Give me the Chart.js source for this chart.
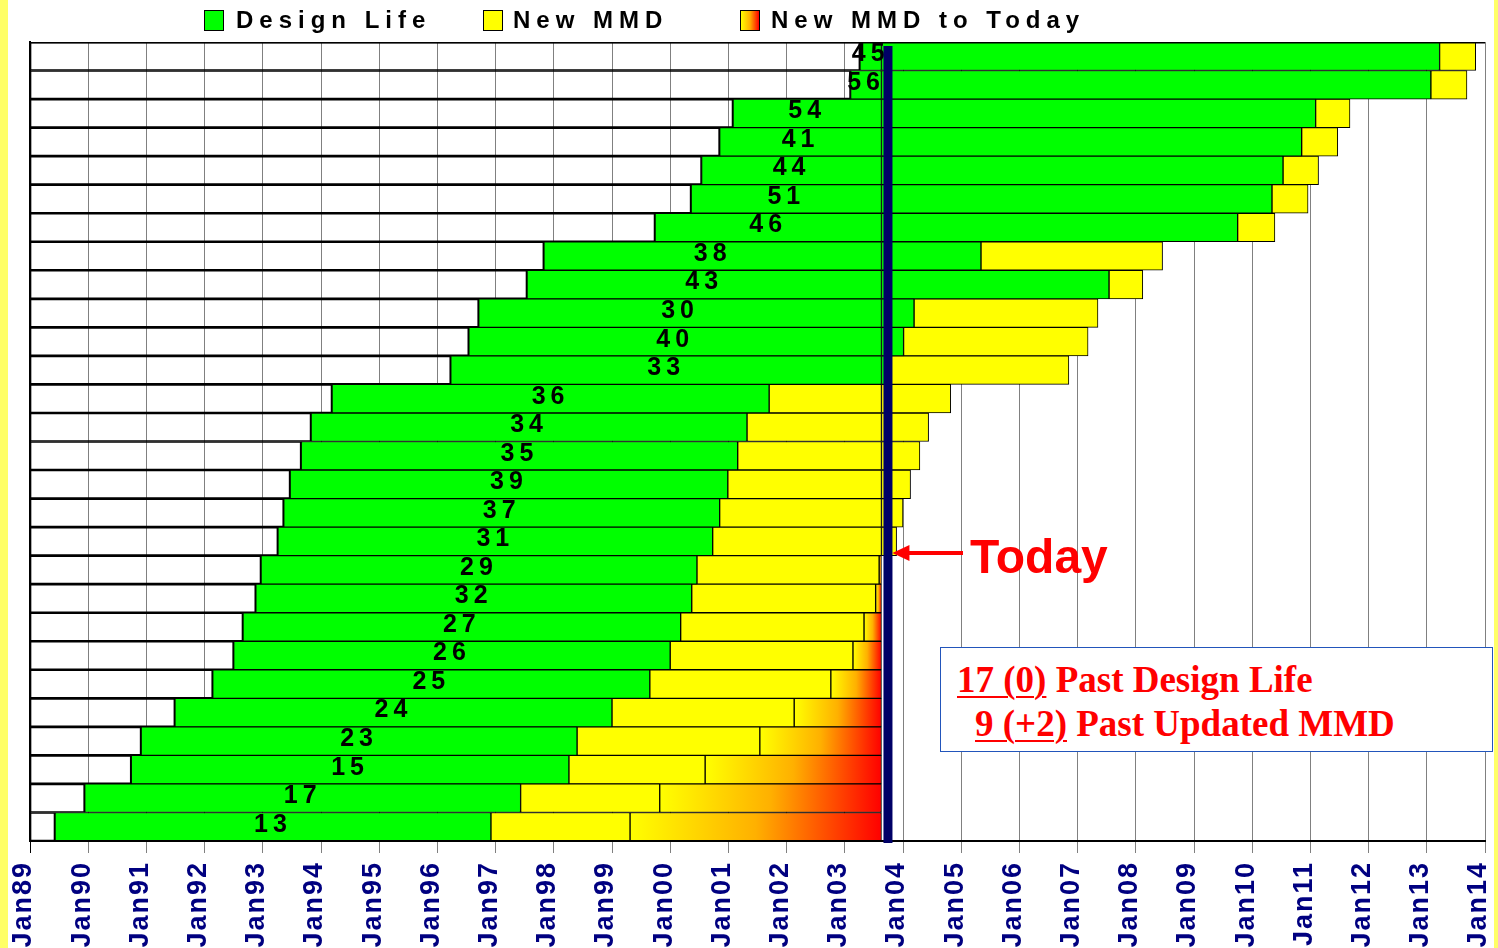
<!DOCTYPE html>
<html>
<head>
<meta charset="utf-8">
<title>Design Life / New MMD</title>
<script src="https://cdn.jsdelivr.net/npm/chart.js@4.4.1/dist/chart.umd.min.js"></script>
<style>
	html, body { margin: 0; padding: 0; width: 1498px; height: 948px; overflow: hidden; background: #ffff66; }
	#wrap { position: absolute; left: 8px; top: 0; width: 1486px; height: 948px; background: #fff; }
	#wrap canvas { position: absolute; left: 0; top: 0; }
	.box { position: absolute; top: 10px; width: 18px; height: 19px; border: 1px solid #000; }
	.leg { position: absolute; top: 7px; font: bold 24px 'Liberation Sans', Arial, sans-serif; letter-spacing: 6px; line-height: 26px; color: #000; white-space: nowrap; }
	#today { position: absolute; left: 962px; top: 533px; font: bold 48px 'Liberation Sans', Arial, sans-serif; line-height: 48px; color: #ff0000; }
	#note { position: absolute; left: 932px; top: 647px; width: 551px; height: 103px; border: 1.5px solid #2255bb; background: #fff; }
	.nl { position: absolute; font: bold 37px 'Liberation Serif', 'Times New Roman', serif; line-height: 37px; color: #ff0000; white-space: nowrap; }
	.nl u { text-decoration-thickness: 2px; text-underline-offset: 4px; }
</style>
</head>
<body>
<div id="wrap">
	<canvas id="mycanvas"></canvas>
	<div class="box" style="left:196px;background:#00ff00"></div>
	<div class="leg" style="left:228px">Design Life</div>
	<div class="box" style="left:475px;background:#ffff00"></div>
	<div class="leg" style="left:505px">New MMD</div>
	<div class="box" style="left:732px;background:linear-gradient(to right,#ffff00,#ffb000 50%,#ff0000)"></div>
	<div class="leg" style="left:763px">New MMD to Today</div>
	<div id="today">Today</div>
	<div id="note"></div>
	<div class="nl" style="left:949px;top:661px"><u>17 (0)</u> Past Design Life</div>
	<div class="nl" style="left:967px;top:705px"><u>9 (+2)</u> Past Updated MMD</div>
</div>
<script>
// one entry per row, top to bottom
var rowLabels = ['45','56','54','41','44','51','46','38','43','30','40','33','36','34','35','39','37','31','29','32','27','26','25','24','23','15','17','13'];
var inService = [2003.26,2003.10,2001.08,2000.85,2000.54,2000.36,1999.74,1997.83,1997.54,1996.71,1996.54,1996.23,1994.19,1993.83,1993.66,1993.47,1993.36,1993.26,1992.97,1992.88,1992.66,1992.50,1992.14,1991.49,1990.91,1990.74,1989.94,1989.43];
var designEnd = [2013.22,2013.07,2011.09,2010.85,2010.53,2010.34,2009.75,2005.34,2007.54,2004.19,2004.01,2003.73,2001.70,2001.32,2001.16,2000.99,2000.85,2000.73,2000.46,2000.37,2000.18,2000.00,1999.65,1999.00,1998.40,1998.26,1997.43,1996.92];
var mmdEnd = [2013.84,2013.69,2011.68,2011.47,2011.14,2010.96,2010.39,2008.46,2008.12,2007.35,2007.18,2006.85,2004.82,2004.44,2004.29,2004.13,2004.00,2003.89,2003.59,2003.53,2003.33,2003.14,2002.76,2002.13,2001.54,2000.60,1999.82,1999.31];
var today = 2003.63;
var tickLabels = ['Jan89','Jan90','Jan91','Jan92','Jan93','Jan94','Jan95','Jan96','Jan97','Jan98','Jan99','Jan00','Jan01','Jan02','Jan03','Jan04','Jan05','Jan06','Jan07','Jan08','Jan09','Jan10','Jan11','Jan12','Jan13','Jan14'];

function seg(a, b) {
	return b > a ? [a, b] : null;
}

var offsetBars = [], lifeBars = [], lifeLate = [], mmdBars = [], mmdLate = [], overdueBars = [];
for (var i = 0; i < rowLabels.length; i++) {
	offsetBars.push([1989, inService[i]]);
	lifeBars.push(seg(inService[i], Math.min(designEnd[i], today)));
	lifeLate.push(seg(today, designEnd[i]));
	mmdBars.push(seg(designEnd[i], Math.min(mmdEnd[i], today)));
	mmdLate.push(seg(Math.max(designEnd[i], today), mmdEnd[i]));
	overdueBars.push(seg(mmdEnd[i], today));
}

function overdueFill(c) {
	var x = c.chart.scales.x;
	if (c.type !== 'data' || !x || !c.raw) return '#ffb000';
	var x0 = x.getPixelForValue(c.raw[0]);
	var x1 = x.getPixelForValue(c.raw[1]);
	var g = c.chart.ctx.createLinearGradient(x0, 0, x1, 0);
	g.addColorStop(0, '#ffff00');
	g.addColorStop(0.5, '#ffb000');
	g.addColorStop(1, '#ff0000');
	return g;
}

function bar(label, data, fill) {
	return {
		label: label,
		data: data,
		backgroundColor: fill,
		borderColor: '#000',
		borderWidth: 1,
		borderSkipped: false,
		grouped: false,
		categoryPercentage: 1,
		barPercentage: 1
	};
}

var marks = {
	id: 'marks',
	beforeDraw: function (chart) {
		chart.ctx.letterSpacing = '2px';
	},
	afterDatasetsDraw: function (chart) {
		var ctx = chart.ctx, x = chart.scales.x, y = chart.scales.y;
		ctx.save();
		ctx.letterSpacing = '5px';
		ctx.font = 'bold 25px "Liberation Sans", Arial, sans-serif';
		ctx.fillStyle = '#000';
		ctx.textAlign = 'center';
		ctx.textBaseline = 'middle';
		for (var i = 0; i < rowLabels.length; i++) {
			var cx = (x.getPixelForValue(inService[i]) + x.getPixelForValue(Math.min(designEnd[i], today))) / 2;
			ctx.fillText(rowLabels[i], cx, y.getPixelForValue(i) - 2);
		}
		ctx.restore();
	},
	afterDraw: function (chart) {
		var ctx = chart.ctx, a = chart.chartArea, x = chart.scales.x;
		var tx = x.getPixelForValue(today);
		ctx.save();
		// top frame
		ctx.strokeStyle = '#000';
		ctx.lineWidth = 1.5;
		ctx.beginPath();
		ctx.moveTo(a.left, a.top + 0.75);
		ctx.lineTo(a.right, a.top + 0.75);
		ctx.stroke();
		// today line
		ctx.fillStyle = '#000066';
		ctx.fillRect(tx + 2, a.top + 4, 9, a.bottom - a.top - 2);
		// arrow
		ctx.fillStyle = '#ff0000';
		ctx.fillRect(tx + 22, 551, 933 - tx, 4);
		ctx.beginPath();
		ctx.moveTo(tx + 11, 553);
		ctx.lineTo(tx + 28, 545);
		ctx.lineTo(tx + 28, 561);
		ctx.closePath();
		ctx.fill();
		ctx.restore();
	}
};

var chartdata = {
	labels: rowLabels,
	datasets: [
		bar('Design Life', lifeBars, '#00ff00'),
		bar('Design Life (after today)', lifeLate, '#00ff00'),
		bar('New MMD', mmdBars, '#ffff00'),
		bar('New MMD (after today)', mmdLate, '#ffff00'),
		bar('New MMD to Today', overdueBars, overdueFill),
		bar('In service', offsetBars, 'rgba(255,255,255,0)')
	]
};

var ctx = document.getElementById('mycanvas');
var barGraph = new Chart(ctx, {
	type: 'bar',
	data: chartdata,
	plugins: [marks],
	options: {
		indexAxis: 'y',
		responsive: true,
		maintainAspectRatio: false,
		animation: false,
		layout: { padding: { left: 22, right: 9, top: 42, bottom: 0 } },
		plugins: {
			legend: { display: false },
			tooltip: { enabled: false }
		},
		scales: {
			x: {
				type: 'linear',
				min: 1989,
				max: 2014,
				afterFit: function (s) {
					s.height = 107;
					s.paddingLeft = 0;
					s.paddingRight = 0;
				},
				ticks: {
					stepSize: 1,
					autoSkip: false,
					minRotation: 90,
					maxRotation: 90,
					padding: 8,
					labelOffset: -6,
					color: '#000080',
					font: { family: '"Liberation Sans", Arial, sans-serif', size: 27, weight: 'bold' },
					z: 1,
					callback: function (v) {
						return tickLabels[Math.round(v) - 1989];
					}
				},
				grid: {
					color: function (c) { return c.index === 0 ? '#000' : '#808080'; },
					tickColor: function (c) { return c.index === 0 ? '#000' : '#808080'; },
					tickLength: 12,
					lineWidth: 1
				},
				border: { color: '#000', width: 2, z: 1 }
			},
			y: {
				type: 'category',
				ticks: { display: false },
				grid: { display: false, drawTicks: false },
				border: { color: '#000', width: 2, z: 1 }
			}
		}
	}
});
</script>
</body>
</html>
